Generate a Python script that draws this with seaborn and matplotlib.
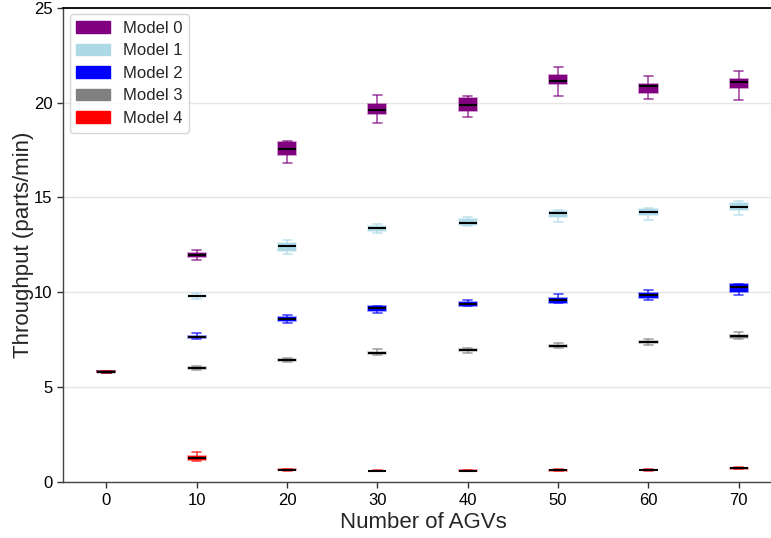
import numpy as np
import pandas as pd
import matplotlib
matplotlib.use("Agg")
import matplotlib.pyplot as plt
import matplotlib.patches as mpatches
import seaborn as sns

agvs = [0, 10, 20, 30, 40, 50, 60, 70]
models = ["Model 0", "Model 1", "Model 2", "Model 3", "Model 4"]
colors = ["#800080", "#ADD8E6", "#0000FF", "#808080", "#FF0000"]

# Per box: [lower whisker, Q1, median, Q3, upper whisker]
model0 = [[5.78, 5.80, 5.82, 5.84, 5.86],
          [11.69, 11.85, 11.97, 12.09, 12.23],
          [16.80, 17.22, 17.55, 17.94, 17.97],
          [18.90, 19.39, 19.60, 19.90, 20.38],
          [19.24, 19.57, 19.88, 20.25, 20.36],
          [20.34, 20.96, 21.15, 21.45, 21.88],
          [20.17, 20.48, 20.87, 20.97, 21.40],
          [20.13, 20.76, 21.10, 21.24, 21.67]]
model1 = [[5.78, 5.80, 5.82, 5.84, 5.86],
          [9.65, 9.77, 9.80, 9.84, 9.97],
          [12.00, 12.20, 12.43, 12.62, 12.78],
          [13.14, 13.25, 13.38, 13.50, 13.62],
          [13.50, 13.57, 13.67, 13.85, 13.99],
          [13.72, 13.99, 14.18, 14.30, 14.32],
          [13.81, 14.08, 14.22, 14.38, 14.43],
          [14.06, 14.34, 14.51, 14.71, 14.83]]
model2 = [[5.78, 5.80, 5.82, 5.84, 5.86],
          [7.56, 7.58, 7.65, 7.72, 7.85],
          [8.39, 8.51, 8.62, 8.72, 8.81],
          [8.92, 9.04, 9.16, 9.28, 9.30],
          [9.26, 9.28, 9.39, 9.48, 9.58],
          [9.43, 9.46, 9.58, 9.72, 9.90],
          [9.58, 9.71, 9.85, 9.98, 10.11],
          [9.85, 10.00, 10.28, 10.44, 10.46]]
model3 = [[5.78, 5.80, 5.82, 5.84, 5.86],
          [5.91, 5.97, 6.02, 6.07, 6.12],
          [6.33, 6.39, 6.44, 6.50, 6.56],
          [6.69, 6.75, 6.81, 6.88, 7.00],
          [6.82, 6.92, 6.98, 7.02, 7.05],
          [7.09, 7.13, 7.19, 7.25, 7.35],
          [7.25, 7.32, 7.39, 7.45, 7.53],
          [7.53, 7.62, 7.70, 7.77, 7.93]]
model4 = [[5.78, 5.80, 5.82, 5.84, 5.86],
          [1.14, 1.16, 1.26, 1.39, 1.60],
          [0.62, 0.64, 0.67, 0.70, 0.72],
          [0.58, 0.59, 0.60, 0.62, 0.63],
          [0.58, 0.59, 0.61, 0.63, 0.65],
          [0.58, 0.60, 0.63, 0.67, 0.70],
          [0.61, 0.63, 0.65, 0.67, 0.69],
          [0.70, 0.72, 0.74, 0.76, 0.78]]
all_models = [model0, model1, model2, model3, model4]

rows = []
for m, boxes in zip(models, all_models):
    for a, vals in zip(agvs, boxes):
        for v in vals:
            rows.append({"model": m, "agv": a, "value": v})
df = pd.DataFrame(rows)

sns.set_style("white")
plt.rcParams["font.family"] = ["Liberation Sans", "DejaVu Sans"]

fig = plt.figure(figsize=(7.71, 5.38), dpi=100)
ax = fig.add_axes([63 / 771, 55.7 / 538, 721 / 771, 474.7 / 538])

for m, c in zip(models, colors):
    rgb = matplotlib.colors.to_rgb(c)
    sub = df[df["model"] == m]
    sns.boxplot(data=sub, x="agv", y="value", order=agvs, ax=ax,
                color=c, saturation=1, width=0.2, whis=(0, 100),
                linecolor=c, linewidth=1.2,
                boxprops={"edgecolor": (*rgb, 0.45)},
                whiskerprops={"color": (*rgb, 0.7)},
                capprops={"color": (*rgb, 0.7)},
                medianprops={"color": "black", "linewidth": 1.5})

ax.set_xlim(-0.48, 7.5)
ax.set_ylim(0, 25)
ax.set_yticks([0, 5, 10, 15, 20, 25])
ax.yaxis.grid(True, color="#e6e6e6", linewidth=1)
ax.xaxis.grid(False)
ax.set_axisbelow(True)
ax.tick_params(axis="both", labelsize=12, length=4, width=1, color="#333333",
               labelcolor="black", bottom=True, left=True)
ax.set_xlabel("Number of AGVs", fontsize=16, labelpad=3)
ax.set_ylabel("Throughput (parts/min)", fontsize=16, labelpad=0)
ax.spines["right"].set_visible(False)
ax.spines["top"].set_color("black")
ax.spines["top"].set_linewidth(1.3)
for s in ["left", "bottom"]:
    ax.spines[s].set_color("#444444")
    ax.spines[s].set_linewidth(1.0)

handles = [mpatches.Patch(color=c, label=m) for m, c in zip(models, colors)]
ax.legend(handles=handles, loc="upper left", fontsize=12, frameon=True,
          edgecolor="#cccccc", fancybox=True, handlelength=2.0,
          borderaxespad=0.4, labelspacing=0.45)

fig.savefig("out.png", dpi=100)
